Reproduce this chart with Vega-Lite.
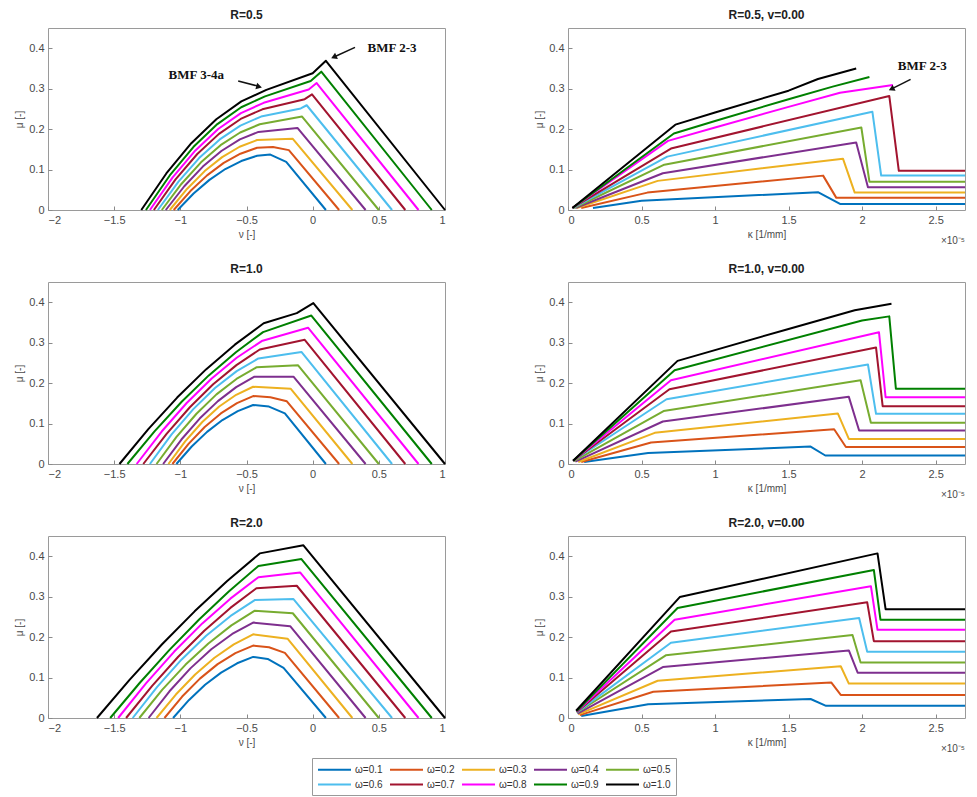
{
"$schema": "https://vega.github.io/schema/vega-lite/v6.json",
"padding": {"left": 14, "top": 8, "right": 5, "bottom": 5},
"config": {
  "font": "Liberation Sans",
  "view": {"stroke": "#9a9a9a", "strokeWidth": 1},
  "axis": {"domain": false, "grid": false, "ticks": true, "tickSize": -4, "tickColor": "#8a8a8a", "labelPadding": 8, "labelFont": "Liberation Sans", "labelFontSize": 11, "labelColor": "#4a4a4a", "titleFont": "Liberation Sans", "titleFontSize": 10, "titleFontWeight": "normal", "titleColor": "#4a4a4a", "titlePadding": 4},
  "title": {"fontSize": 12, "fontWeight": "bold", "font": "Liberation Sans", "color": "#222222", "offset": 6},
  "line": {"strokeWidth": 2, "strokeJoin": "round"}
},
"columns": 2,
"spacing": {"row": 15, "column": 87},
"resolve": {"scale": {"x": "independent", "y": "independent", "color": "shared"}, "legend": {"color": "shared"}},
"datasets": {
"a": [
{"w":"ω=0.1","x":-1.02,"y":0},{"w":"ω=0.1","x":-0.90,"y":0.0407},{"w":"ω=0.1","x":-0.78,"y":0.0745},{"w":"ω=0.1","x":-0.66,"y":0.1013},{"w":"ω=0.1","x":-0.54,"y":0.1211},{"w":"ω=0.1","x":-0.42,"y":0.134},{"w":"ω=0.1","x":-0.32,"y":0.137},{"w":"ω=0.1","x":-0.20,"y":0.119},{"w":"ω=0.1","x":0.1,"y":0},
{"w":"ω=0.2","x":-1.05,"y":0},{"w":"ω=0.2","x":-0.924,"y":0.0468},{"w":"ω=0.2","x":-0.798,"y":0.0856},{"w":"ω=0.2","x":-0.672,"y":0.1164},{"w":"ω=0.2","x":-0.546,"y":0.1392},{"w":"ω=0.2","x":-0.42,"y":0.154},{"w":"ω=0.2","x":-0.30,"y":0.156},{"w":"ω=0.2","x":-0.18,"y":0.148},{"w":"ω=0.2","x":0.2,"y":0},
{"w":"ω=0.3","x":-1.08,"y":0},{"w":"ω=0.3","x":-0.948,"y":0.0526},{"w":"ω=0.3","x":-0.816,"y":0.0962},{"w":"ω=0.3","x":-0.684,"y":0.1308},{"w":"ω=0.3","x":-0.552,"y":0.1564},{"w":"ω=0.3","x":-0.42,"y":0.173},{"w":"ω=0.3","x":-0.15,"y":0.176},{"w":"ω=0.3","x":0.3,"y":0},
{"w":"ω=0.4","x":-1.11,"y":0},{"w":"ω=0.4","x":-0.97,"y":0.0587},{"w":"ω=0.4","x":-0.83,"y":0.1073},{"w":"ω=0.4","x":-0.69,"y":0.1459},{"w":"ω=0.4","x":-0.55,"y":0.1745},{"w":"ω=0.4","x":-0.41,"y":0.193},{"w":"ω=0.4","x":-0.115,"y":0.203},{"w":"ω=0.4","x":0.4,"y":0},
{"w":"ω=0.5","x":-1.14,"y":0},{"w":"ω=0.5","x":-0.992,"y":0.0644},{"w":"ω=0.5","x":-0.844,"y":0.1179},{"w":"ω=0.5","x":-0.696,"y":0.1603},{"w":"ω=0.5","x":-0.548,"y":0.1916},{"w":"ω=0.5","x":-0.40,"y":0.212},{"w":"ω=0.5","x":-0.08,"y":0.231},{"w":"ω=0.5","x":0.5,"y":0},
{"w":"ω=0.6","x":-1.17,"y":0},{"w":"ω=0.6","x":-1.014,"y":0.0702},{"w":"ω=0.6","x":-0.858,"y":0.1284},{"w":"ω=0.6","x":-0.702,"y":0.1746},{"w":"ω=0.6","x":-0.546,"y":0.2088},{"w":"ω=0.6","x":-0.39,"y":0.231},{"w":"ω=0.6","x":-0.09,"y":0.251},{"w":"ω=0.6","x":-0.045,"y":0.259},{"w":"ω=0.6","x":0.6,"y":0},
{"w":"ω=0.7","x":-1.2,"y":0},{"w":"ω=0.7","x":-1.036,"y":0.0757},{"w":"ω=0.7","x":-0.872,"y":0.1384},{"w":"ω=0.7","x":-0.708,"y":0.1882},{"w":"ω=0.7","x":-0.544,"y":0.2251},{"w":"ω=0.7","x":-0.38,"y":0.249},{"w":"ω=0.7","x":-0.06,"y":0.274},{"w":"ω=0.7","x":-0.005,"y":0.286},{"w":"ω=0.7","x":0.7,"y":0},
{"w":"ω=0.8","x":-1.23,"y":0},{"w":"ω=0.8","x":-1.058,"y":0.0806},{"w":"ω=0.8","x":-0.886,"y":0.1473},{"w":"ω=0.8","x":-0.714,"y":0.2003},{"w":"ω=0.8","x":-0.542,"y":0.2396},{"w":"ω=0.8","x":-0.37,"y":0.265},{"w":"ω=0.8","x":-0.03,"y":0.298},{"w":"ω=0.8","x":0.03,"y":0.314},{"w":"ω=0.8","x":0.8,"y":0},
{"w":"ω=0.9","x":-1.26,"y":0},{"w":"ω=0.9","x":-1.08,"y":0.0854},{"w":"ω=0.9","x":-0.9,"y":0.1562},{"w":"ω=0.9","x":-0.72,"y":0.2124},{"w":"ω=0.9","x":-0.54,"y":0.254},{"w":"ω=0.9","x":-0.36,"y":0.281},{"w":"ω=0.9","x":-0.015,"y":0.319},{"w":"ω=0.9","x":0.065,"y":0.342},{"w":"ω=0.9","x":0.9,"y":0},
{"w":"ω=1.0","x":-1.295,"y":0},{"w":"ω=1.0","x":-1.106,"y":0.0903},{"w":"ω=1.0","x":-0.917,"y":0.1651},{"w":"ω=1.0","x":-0.728,"y":0.2245},{"w":"ω=1.0","x":-0.539,"y":0.2685},{"w":"ω=1.0","x":-0.35,"y":0.297},{"w":"ω=1.0","x":0.0,"y":0.338},{"w":"ω=1.0","x":0.10,"y":0.369},{"w":"ω=1.0","x":1.0,"y":0}
],
"b": [
{"w":"ω=0.1","x":0.17,"y":0.005},{"w":"ω=0.1","x":0.50,"y":0.023},{"w":"ω=0.1","x":1.70,"y":0.044},{"w":"ω=0.1","x":1.85,"y":0.015},{"w":"ω=0.1","x":2.7,"y":0.015},
{"w":"ω=0.2","x":0.09,"y":0.005},{"w":"ω=0.2","x":0.54,"y":0.043},{"w":"ω=0.2","x":1.735,"y":0.085},{"w":"ω=0.2","x":1.825,"y":0.03},{"w":"ω=0.2","x":2.7,"y":0.03},
{"w":"ω=0.3","x":0.06,"y":0.005},{"w":"ω=0.3","x":0.61,"y":0.072},{"w":"ω=0.3","x":1.87,"y":0.127},{"w":"ω=0.3","x":1.95,"y":0.043},{"w":"ω=0.3","x":2.7,"y":0.043},
{"w":"ω=0.4","x":0.05,"y":0.005},{"w":"ω=0.4","x":0.645,"y":0.091},{"w":"ω=0.4","x":1.96,"y":0.167},{"w":"ω=0.4","x":2.04,"y":0.056},{"w":"ω=0.4","x":2.7,"y":0.056},
{"w":"ω=0.5","x":0.04,"y":0.005},{"w":"ω=0.5","x":0.655,"y":0.112},{"w":"ω=0.5","x":1.995,"y":0.204},{"w":"ω=0.5","x":2.05,"y":0.07},{"w":"ω=0.5","x":2.7,"y":0.07},
{"w":"ω=0.6","x":0.035,"y":0.005},{"w":"ω=0.6","x":0.675,"y":0.132},{"w":"ω=0.6","x":2.07,"y":0.243},{"w":"ω=0.6","x":2.13,"y":0.085},{"w":"ω=0.6","x":2.7,"y":0.085},
{"w":"ω=0.7","x":0.03,"y":0.005},{"w":"ω=0.7","x":0.70,"y":0.152},{"w":"ω=0.7","x":2.185,"y":0.282},{"w":"ω=0.7","x":2.25,"y":0.097},{"w":"ω=0.7","x":2.7,"y":0.097},
{"w":"ω=0.8","x":0.03,"y":0.005},{"w":"ω=0.8","x":0.68,"y":0.171},{"w":"ω=0.8","x":1.0,"y":0.204},{"w":"ω=0.8","x":1.5,"y":0.255},{"w":"ω=0.8","x":1.85,"y":0.29},{"w":"ω=0.8","x":2.21,"y":0.309},
{"w":"ω=0.9","x":0.03,"y":0.005},{"w":"ω=0.9","x":0.72,"y":0.189},{"w":"ω=0.9","x":1.0,"y":0.22},{"w":"ω=0.9","x":1.5,"y":0.274},{"w":"ω=0.9","x":1.8,"y":0.305},{"w":"ω=0.9","x":2.05,"y":0.329},
{"w":"ω=1.0","x":0.03,"y":0.005},{"w":"ω=1.0","x":0.73,"y":0.211},{"w":"ω=1.0","x":1.0,"y":0.241},{"w":"ω=1.0","x":1.5,"y":0.295},{"w":"ω=1.0","x":1.7,"y":0.324},{"w":"ω=1.0","x":1.96,"y":0.35}
],
"c": [
{"w":"ω=0.1","x":-1.03,"y":0},{"w":"ω=0.1","x":-0.914,"y":0.0432},{"w":"ω=0.1","x":-0.798,"y":0.0794},{"w":"ω=0.1","x":-0.682,"y":0.1086},{"w":"ω=0.1","x":-0.566,"y":0.1308},{"w":"ω=0.1","x":-0.45,"y":0.146},{"w":"ω=0.1","x":-0.33,"y":0.142},{"w":"ω=0.1","x":-0.21,"y":0.125},{"w":"ω=0.1","x":0.1,"y":0},
{"w":"ω=0.2","x":-1.06,"y":0},{"w":"ω=0.2","x":-0.938,"y":0.0497},{"w":"ω=0.2","x":-0.816,"y":0.0914},{"w":"ω=0.2","x":-0.694,"y":0.125},{"w":"ω=0.2","x":-0.572,"y":0.1505},{"w":"ω=0.2","x":-0.45,"y":0.168},{"w":"ω=0.2","x":-0.32,"y":0.165},{"w":"ω=0.2","x":-0.195,"y":0.155},{"w":"ω=0.2","x":0.2,"y":0},
{"w":"ω=0.3","x":-1.09,"y":0},{"w":"ω=0.3","x":-0.962,"y":0.0565},{"w":"ω=0.3","x":-0.834,"y":0.1039},{"w":"ω=0.3","x":-0.706,"y":0.1421},{"w":"ω=0.3","x":-0.578,"y":0.1711},{"w":"ω=0.3","x":-0.45,"y":0.191},{"w":"ω=0.3","x":-0.165,"y":0.186},{"w":"ω=0.3","x":0.3,"y":0},
{"w":"ω=0.4","x":-1.13,"y":0},{"w":"ω=0.4","x":-0.992,"y":0.0605},{"w":"ω=0.4","x":-0.854,"y":0.1123},{"w":"ω=0.4","x":-0.716,"y":0.1555},{"w":"ω=0.4","x":-0.578,"y":0.1901},{"w":"ω=0.4","x":-0.44,"y":0.216},{"w":"ω=0.4","x":-0.145,"y":0.216},{"w":"ω=0.4","x":0.4,"y":0},
{"w":"ω=0.5","x":-1.18,"y":0},{"w":"ω=0.5","x":-1.029,"y":0.0669},{"w":"ω=0.5","x":-0.878,"y":0.1243},{"w":"ω=0.5","x":-0.727,"y":0.1721},{"w":"ω=0.5","x":-0.576,"y":0.2103},{"w":"ω=0.5","x":-0.425,"y":0.239},{"w":"ω=0.5","x":-0.11,"y":0.244},{"w":"ω=0.5","x":0.5,"y":0},
{"w":"ω=0.6","x":-1.23,"y":0},{"w":"ω=0.6","x":-1.066,"y":0.0731},{"w":"ω=0.6","x":-0.902,"y":0.1357},{"w":"ω=0.6","x":-0.738,"y":0.1879},{"w":"ω=0.6","x":-0.574,"y":0.2297},{"w":"ω=0.6","x":-0.41,"y":0.261},{"w":"ω=0.6","x":-0.085,"y":0.277},{"w":"ω=0.6","x":0.6,"y":0},
{"w":"ω=0.7","x":-1.28,"y":0},{"w":"ω=0.7","x":-1.104,"y":0.0747},{"w":"ω=0.7","x":-0.928,"y":0.1404},{"w":"ω=0.7","x":-0.752,"y":0.197},{"w":"ω=0.7","x":-0.576,"y":0.2445},{"w":"ω=0.7","x":-0.40,"y":0.283},{"w":"ω=0.7","x":-0.06,"y":0.307},{"w":"ω=0.7","x":0.7,"y":0},
{"w":"ω=0.8","x":-1.33,"y":0},{"w":"ω=0.8","x":-1.141,"y":0.0803},{"w":"ω=0.8","x":-0.952,"y":0.1508},{"w":"ω=0.8","x":-0.763,"y":0.2116},{"w":"ω=0.8","x":-0.574,"y":0.2627},{"w":"ω=0.8","x":-0.385,"y":0.304},{"w":"ω=0.8","x":-0.035,"y":0.337},{"w":"ω=0.8","x":0.8,"y":0},
{"w":"ω=0.9","x":-1.40,"y":0},{"w":"ω=0.9","x":-1.195,"y":0.0808},{"w":"ω=0.9","x":-0.99,"y":0.1539},{"w":"ω=0.9","x":-0.785,"y":0.2191},{"w":"ω=0.9","x":-0.58,"y":0.2764},{"w":"ω=0.9","x":-0.375,"y":0.326},{"w":"ω=0.9","x":-0.01,"y":0.367},{"w":"ω=0.9","x":0.9,"y":0},
{"w":"ω=1.0","x":-1.46,"y":0},{"w":"ω=1.0","x":-1.242,"y":0.0863},{"w":"ω=1.0","x":-1.024,"y":0.1643},{"w":"ω=1.0","x":-0.806,"y":0.2339},{"w":"ω=1.0","x":-0.588,"y":0.2951},{"w":"ω=1.0","x":-0.37,"y":0.348},{"w":"ω=1.0","x":-0.12,"y":0.373},{"w":"ω=1.0","x":0.005,"y":0.398},{"w":"ω=1.0","x":1.0,"y":0}
],
"d": [
{"w":"ω=0.1","x":0.11,"y":0.005},{"w":"ω=0.1","x":0.545,"y":0.027},{"w":"ω=0.1","x":1.65,"y":0.043},{"w":"ω=0.1","x":1.75,"y":0.021},{"w":"ω=0.1","x":2.7,"y":0.021},
{"w":"ω=0.2","x":0.09,"y":0.005},{"w":"ω=0.2","x":0.565,"y":0.053},{"w":"ω=0.2","x":1.81,"y":0.086},{"w":"ω=0.2","x":1.89,"y":0.042},{"w":"ω=0.2","x":2.7,"y":0.042},
{"w":"ω=0.3","x":0.07,"y":0.005},{"w":"ω=0.3","x":0.59,"y":0.077},{"w":"ω=0.3","x":1.835,"y":0.125},{"w":"ω=0.3","x":1.91,"y":0.062},{"w":"ω=0.3","x":2.7,"y":0.062},
{"w":"ω=0.4","x":0.05,"y":0.006},{"w":"ω=0.4","x":0.645,"y":0.105},{"w":"ω=0.4","x":1.91,"y":0.166},{"w":"ω=0.4","x":1.98,"y":0.083},{"w":"ω=0.4","x":2.7,"y":0.083},
{"w":"ω=0.5","x":0.04,"y":0.007},{"w":"ω=0.5","x":0.65,"y":0.131},{"w":"ω=0.5","x":1.99,"y":0.207},{"w":"ω=0.5","x":2.06,"y":0.102},{"w":"ω=0.5","x":2.7,"y":0.102},
{"w":"ω=0.6","x":0.035,"y":0.008},{"w":"ω=0.6","x":0.67,"y":0.16},{"w":"ω=0.6","x":2.04,"y":0.246},{"w":"ω=0.6","x":2.095,"y":0.124},{"w":"ω=0.6","x":2.7,"y":0.124},
{"w":"ω=0.7","x":0.035,"y":0.008},{"w":"ω=0.7","x":0.69,"y":0.185},{"w":"ω=0.7","x":2.095,"y":0.288},{"w":"ω=0.7","x":2.14,"y":0.143},{"w":"ω=0.7","x":2.7,"y":0.143},
{"w":"ω=0.8","x":0.035,"y":0.008},{"w":"ω=0.8","x":0.70,"y":0.207},{"w":"ω=0.8","x":2.115,"y":0.326},{"w":"ω=0.8","x":2.16,"y":0.165},{"w":"ω=0.8","x":2.7,"y":0.165},
{"w":"ω=0.9","x":0.035,"y":0.008},{"w":"ω=0.9","x":0.725,"y":0.232},{"w":"ω=0.9","x":2.0,"y":0.355},{"w":"ω=0.9","x":2.185,"y":0.365},{"w":"ω=0.9","x":2.23,"y":0.186},{"w":"ω=0.9","x":2.7,"y":0.186},
{"w":"ω=1.0","x":0.035,"y":0.008},{"w":"ω=1.0","x":0.745,"y":0.255},{"w":"ω=1.0","x":1.5,"y":0.334},{"w":"ω=1.0","x":1.95,"y":0.38},{"w":"ω=1.0","x":2.2,"y":0.396}
],
"e": [
{"w":"ω=0.1","x":-1.055,"y":0},{"w":"ω=0.1","x":-0.934,"y":0.0447},{"w":"ω=0.1","x":-0.813,"y":0.0821},{"w":"ω=0.1","x":-0.692,"y":0.1123},{"w":"ω=0.1","x":-0.571,"y":0.1353},{"w":"ω=0.1","x":-0.45,"y":0.151},{"w":"ω=0.1","x":-0.34,"y":0.146},{"w":"ω=0.1","x":-0.22,"y":0.124},{"w":"ω=0.1","x":0.1,"y":0},
{"w":"ω=0.2","x":-1.12,"y":0},{"w":"ω=0.2","x":-0.986,"y":0.053},{"w":"ω=0.2","x":-0.852,"y":0.0974},{"w":"ω=0.2","x":-0.718,"y":0.1332},{"w":"ω=0.2","x":-0.584,"y":0.1604},{"w":"ω=0.2","x":-0.45,"y":0.179},{"w":"ω=0.2","x":-0.33,"y":0.175},{"w":"ω=0.2","x":-0.21,"y":0.161},{"w":"ω=0.2","x":0.2,"y":0},
{"w":"ω=0.3","x":-1.18,"y":0},{"w":"ω=0.3","x":-1.034,"y":0.058},{"w":"ω=0.3","x":-0.888,"y":0.1076},{"w":"ω=0.3","x":-0.742,"y":0.149},{"w":"ω=0.3","x":-0.596,"y":0.1822},{"w":"ω=0.3","x":-0.45,"y":0.207},{"w":"ω=0.3","x":-0.19,"y":0.196},{"w":"ω=0.3","x":0.3,"y":0},
{"w":"ω=0.4","x":-1.24,"y":0},{"w":"ω=0.4","x":-1.082,"y":0.0661},{"w":"ω=0.4","x":-0.924,"y":0.1227},{"w":"ω=0.4","x":-0.766,"y":0.1699},{"w":"ω=0.4","x":-0.608,"y":0.2077},{"w":"ω=0.4","x":-0.45,"y":0.236},{"w":"ω=0.4","x":-0.17,"y":0.227},{"w":"ω=0.4","x":0.4,"y":0},
{"w":"ω=0.5","x":-1.31,"y":0},{"w":"ω=0.5","x":-1.136,"y":0.07},{"w":"ω=0.5","x":-0.962,"y":0.1314},{"w":"ω=0.5","x":-0.788,"y":0.1844},{"w":"ω=0.5","x":-0.614,"y":0.229},{"w":"ω=0.5","x":-0.44,"y":0.265},{"w":"ω=0.5","x":-0.15,"y":0.259},{"w":"ω=0.5","x":0.5,"y":0},
{"w":"ω=0.6","x":-1.36,"y":0},{"w":"ω=0.6","x":-1.175,"y":0.0771},{"w":"ω=0.6","x":-0.99,"y":0.1448},{"w":"ω=0.6","x":-0.805,"y":0.2032},{"w":"ω=0.6","x":-0.62,"y":0.2523},{"w":"ω=0.6","x":-0.435,"y":0.292},{"w":"ω=0.6","x":-0.145,"y":0.294},{"w":"ω=0.6","x":0.6,"y":0},
{"w":"ω=0.7","x":-1.41,"y":0},{"w":"ω=0.7","x":-1.213,"y":0.0796},{"w":"ω=0.7","x":-1.016,"y":0.1515},{"w":"ω=0.7","x":-0.819,"y":0.2157},{"w":"ω=0.7","x":-0.622,"y":0.2722},{"w":"ω=0.7","x":-0.425,"y":0.321},{"w":"ω=0.7","x":-0.12,"y":0.327},{"w":"ω=0.7","x":0.7,"y":0},
{"w":"ω=0.8","x":-1.47,"y":0},{"w":"ω=0.8","x":-1.258,"y":0.0863},{"w":"ω=0.8","x":-1.046,"y":0.1643},{"w":"ω=0.8","x":-0.834,"y":0.2339},{"w":"ω=0.8","x":-0.622,"y":0.2951},{"w":"ω=0.8","x":-0.41,"y":0.348},{"w":"ω=0.8","x":-0.095,"y":0.36},{"w":"ω=0.8","x":0.8,"y":0},
{"w":"ω=0.9","x":-1.53,"y":0},{"w":"ω=0.9","x":-1.306,"y":0.0872},{"w":"ω=0.9","x":-1.082,"y":0.1684},{"w":"ω=0.9","x":-0.858,"y":0.2436},{"w":"ω=0.9","x":-0.634,"y":0.3128},{"w":"ω=0.9","x":-0.41,"y":0.376},{"w":"ω=0.9","x":-0.085,"y":0.393},{"w":"ω=0.9","x":0.9,"y":0},
{"w":"ω=1.0","x":-1.63,"y":0},{"w":"ω=1.0","x":-1.384,"y":0.0944},{"w":"ω=1.0","x":-1.138,"y":0.1823},{"w":"ω=1.0","x":-0.892,"y":0.2637},{"w":"ω=1.0","x":-0.646,"y":0.3386},{"w":"ω=1.0","x":-0.40,"y":0.407},{"w":"ω=1.0","x":-0.07,"y":0.427},{"w":"ω=1.0","x":1.0,"y":0}
],
"f": [
{"w":"ω=0.1","x":0.09,"y":0.005},{"w":"ω=0.1","x":0.545,"y":0.034},{"w":"ω=0.1","x":1.65,"y":0.047},{"w":"ω=0.1","x":1.755,"y":0.03},{"w":"ω=0.1","x":2.7,"y":0.03},
{"w":"ω=0.2","x":0.08,"y":0.007},{"w":"ω=0.2","x":0.58,"y":0.065},{"w":"ω=0.2","x":1.79,"y":0.088},{"w":"ω=0.2","x":1.855,"y":0.057},{"w":"ω=0.2","x":2.7,"y":0.057},
{"w":"ω=0.3","x":0.07,"y":0.009},{"w":"ω=0.3","x":0.61,"y":0.092},{"w":"ω=0.3","x":1.855,"y":0.128},{"w":"ω=0.3","x":1.91,"y":0.085},{"w":"ω=0.3","x":2.7,"y":0.085},
{"w":"ω=0.4","x":0.065,"y":0.011},{"w":"ω=0.4","x":0.645,"y":0.126},{"w":"ω=0.4","x":1.91,"y":0.167},{"w":"ω=0.4","x":1.97,"y":0.112},{"w":"ω=0.4","x":2.7,"y":0.112},
{"w":"ω=0.5","x":0.06,"y":0.013},{"w":"ω=0.5","x":0.665,"y":0.155},{"w":"ω=0.5","x":1.935,"y":0.205},{"w":"ω=0.5","x":1.99,"y":0.137},{"w":"ω=0.5","x":2.7,"y":0.137},
{"w":"ω=0.6","x":0.06,"y":0.014},{"w":"ω=0.6","x":0.70,"y":0.186},{"w":"ω=0.6","x":1.98,"y":0.247},{"w":"ω=0.6","x":2.035,"y":0.164},{"w":"ω=0.6","x":2.7,"y":0.164},
{"w":"ω=0.7","x":0.06,"y":0.015},{"w":"ω=0.7","x":0.70,"y":0.214},{"w":"ω=0.7","x":2.035,"y":0.286},{"w":"ω=0.7","x":2.08,"y":0.19},{"w":"ω=0.7","x":2.7,"y":0.19},
{"w":"ω=0.8","x":0.06,"y":0.016},{"w":"ω=0.8","x":0.725,"y":0.243},{"w":"ω=0.8","x":2.06,"y":0.326},{"w":"ω=0.8","x":2.105,"y":0.218},{"w":"ω=0.8","x":2.7,"y":0.218},
{"w":"ω=0.9","x":0.06,"y":0.017},{"w":"ω=0.9","x":0.745,"y":0.272},{"w":"ω=0.9","x":2.08,"y":0.366},{"w":"ω=0.9","x":2.125,"y":0.243},{"w":"ω=0.9","x":2.7,"y":0.243},
{"w":"ω=1.0","x":0.055,"y":0.018},{"w":"ω=1.0","x":0.76,"y":0.299},{"w":"ω=1.0","x":2.105,"y":0.407},{"w":"ω=1.0","x":2.16,"y":0.269},{"w":"ω=1.0","x":2.7,"y":0.269}
]
},
"concat": [
{"width": 397, "height": 182, "title": "R=0.5",
 "layer": [
  {"data": {"name": "a"}, "mark": {"type": "line"},
   "encoding": {
    "x": {"field": "x", "type": "quantitative", "scale": {"domain": [-2, 1], "nice": false, "zero": false}, "axis": {"title": "ν [-]", "values": [-2, -1.5, -1, -0.5, 0, 0.5, 1], "format": "~g"}},
    "y": {"field": "y", "type": "quantitative", "scale": {"domain": [0, 0.45], "nice": false}, "axis": {"title": "μ [-]", "values": [0, 0.1, 0.2, 0.3, 0.4], "format": "~g"}},
    "color": {"field": "w", "type": "nominal", "scale": {"domain": ["ω=0.1","ω=0.2","ω=0.3","ω=0.4","ω=0.5","ω=0.6","ω=0.7","ω=0.8","ω=0.9","ω=1.0"], "range": ["#0072BD","#D95319","#EDB120","#7E2F8E","#77AC30","#4DBEEE","#A2142F","#FF00FF","#008000","#000000"]},
     "legend": {"title": null, "orient": "none", "legendX": 264, "legendY": 730, "direction": "horizontal", "columns": 5, "symbolType": "M-1,0H5", "symbolSize": 121, "symbolStrokeWidth": 2, "labelFontSize": 10, "labelOffset": 25, "labelColor": "#333333", "strokeColor": "#999999", "padding": 5, "columnPadding": 6, "rowPadding": 3}}
   }},
  {"data": {"values": [{"t": "BMF 3-4a", "x": -0.88, "y": 0.334}, {"t": "BMF 2-3", "x": 0.60, "y": 0.40}]},
   "mark": {"type": "text", "font": "Liberation Serif", "fontWeight": "bold", "fontSize": 13, "color": "#111111"},
   "encoding": {"x": {"field": "x", "type": "quantitative"}, "y": {"field": "y", "type": "quantitative"}, "text": {"field": "t"}}},
  {"data": {"values": [{"x": -0.563, "y": 0.319, "x2": -0.41, "y2": 0.306}, {"x": 0.32, "y": 0.402, "x2": 0.165, "y2": 0.379}]},
   "mark": {"type": "rule", "strokeWidth": 1.5, "color": "#111111"},
   "encoding": {"x": {"field": "x", "type": "quantitative"}, "y": {"field": "y", "type": "quantitative"}, "x2": {"field": "x2"}, "y2": {"field": "y2"}}},
  {"data": {"values": [{"x": -0.405, "y": 0.305}]},
   "mark": {"type": "point", "shape": "triangle-right", "angle": 15, "filled": true, "size": 45, "color": "#111111", "opacity": 1},
   "encoding": {"x": {"field": "x", "type": "quantitative"}, "y": {"field": "y", "type": "quantitative"}}},
  {"data": {"values": [{"x": 0.16, "y": 0.378}]},
   "mark": {"type": "point", "shape": "triangle-right", "angle": 155, "filled": true, "size": 45, "color": "#111111", "opacity": 1},
   "encoding": {"x": {"field": "x", "type": "quantitative"}, "y": {"field": "y", "type": "quantitative"}}}
 ]},
{"width": 397, "height": 182, "title": "R=0.5, v=0.00",
 "layer": [
  {"data": {"name": "b"}, "mark": {"type": "line"},
   "encoding": {
    "x": {"field": "x", "type": "quantitative", "scale": {"domain": [0, 2.7], "nice": false, "zero": false}, "axis": {"title": "κ [1/mm]", "values": [0, 0.5, 1, 1.5, 2, 2.5], "format": "~g"}},
    "y": {"field": "y", "type": "quantitative", "scale": {"domain": [0, 0.45], "nice": false}, "axis": {"title": "μ [-]", "values": [0, 0.1, 0.2, 0.3, 0.4], "format": "~g"}},
    "color": {"field": "w", "type": "nominal", "scale": {"domain": ["ω=0.1","ω=0.2","ω=0.3","ω=0.4","ω=0.5","ω=0.6","ω=0.7","ω=0.8","ω=0.9","ω=1.0"], "range": ["#0072BD","#D95319","#EDB120","#7E2F8E","#77AC30","#4DBEEE","#A2142F","#FF00FF","#008000","#000000"]},
     "legend": {"title": null, "orient": "none", "legendX": 264, "legendY": 730, "direction": "horizontal", "columns": 5, "symbolType": "M-1,0H5", "symbolSize": 121, "symbolStrokeWidth": 2, "labelFontSize": 10, "labelOffset": 25, "labelColor": "#333333", "strokeColor": "#999999", "padding": 5, "columnPadding": 6, "rowPadding": 3}}
   }},
  {"data": {"values": [{"t": "BMF 2-3", "x": 2.41, "y": 0.355}]},
   "mark": {"type": "text", "font": "Liberation Serif", "fontWeight": "bold", "fontSize": 13, "color": "#111111"},
   "encoding": {"x": {"field": "x", "type": "quantitative"}, "y": {"field": "y", "type": "quantitative"}, "text": {"field": "t"}}},
  {"data": {"values": [{"x": 2.33, "y": 0.323, "x2": 2.205, "y2": 0.30}]},
   "mark": {"type": "rule", "strokeWidth": 1.5, "color": "#111111"},
   "encoding": {"x": {"field": "x", "type": "quantitative"}, "y": {"field": "y", "type": "quantitative"}, "x2": {"field": "x2"}, "y2": {"field": "y2"}}},
  {"data": {"values": [{"x": 2.2, "y": 0.299}]},
   "mark": {"type": "point", "shape": "triangle-right", "angle": 154, "filled": true, "size": 45, "color": "#111111", "opacity": 1},
   "encoding": {"x": {"field": "x", "type": "quantitative"}, "y": {"field": "y", "type": "quantitative"}}},
  {"data": {"values": [{"x": 2.7, "y": 0}]},
   "mark": {"type": "text", "align": "right", "baseline": "top", "dy": 26, "fontSize": 10, "color": "#4a4a4a"},
   "encoding": {"x": {"field": "x", "type": "quantitative"}, "y": {"field": "y", "type": "quantitative"}, "text": {"value": "×10⁻⁵"}}}
 ]},
{"width": 397, "height": 182, "title": "R=1.0",
 "layer": [
  {"data": {"name": "c"}, "mark": {"type": "line"},
   "encoding": {
    "x": {"field": "x", "type": "quantitative", "scale": {"domain": [-2, 1], "nice": false, "zero": false}, "axis": {"title": "ν [-]", "values": [-2, -1.5, -1, -0.5, 0, 0.5, 1], "format": "~g"}},
    "y": {"field": "y", "type": "quantitative", "scale": {"domain": [0, 0.45], "nice": false}, "axis": {"title": "μ [-]", "values": [0, 0.1, 0.2, 0.3, 0.4], "format": "~g"}},
    "color": {"field": "w", "type": "nominal", "scale": {"domain": ["ω=0.1","ω=0.2","ω=0.3","ω=0.4","ω=0.5","ω=0.6","ω=0.7","ω=0.8","ω=0.9","ω=1.0"], "range": ["#0072BD","#D95319","#EDB120","#7E2F8E","#77AC30","#4DBEEE","#A2142F","#FF00FF","#008000","#000000"]},
     "legend": {"title": null, "orient": "none", "legendX": 264, "legendY": 730, "direction": "horizontal", "columns": 5, "symbolType": "M-1,0H5", "symbolSize": 121, "symbolStrokeWidth": 2, "labelFontSize": 10, "labelOffset": 25, "labelColor": "#333333", "strokeColor": "#999999", "padding": 5, "columnPadding": 6, "rowPadding": 3}}
   }}
 ]},
{"width": 397, "height": 182, "title": "R=1.0, v=0.00",
 "layer": [
  {"data": {"name": "d"}, "mark": {"type": "line"},
   "encoding": {
    "x": {"field": "x", "type": "quantitative", "scale": {"domain": [0, 2.7], "nice": false, "zero": false}, "axis": {"title": "κ [1/mm]", "values": [0, 0.5, 1, 1.5, 2, 2.5], "format": "~g"}},
    "y": {"field": "y", "type": "quantitative", "scale": {"domain": [0, 0.45], "nice": false}, "axis": {"title": "μ [-]", "values": [0, 0.1, 0.2, 0.3, 0.4], "format": "~g"}},
    "color": {"field": "w", "type": "nominal", "scale": {"domain": ["ω=0.1","ω=0.2","ω=0.3","ω=0.4","ω=0.5","ω=0.6","ω=0.7","ω=0.8","ω=0.9","ω=1.0"], "range": ["#0072BD","#D95319","#EDB120","#7E2F8E","#77AC30","#4DBEEE","#A2142F","#FF00FF","#008000","#000000"]},
     "legend": {"title": null, "orient": "none", "legendX": 264, "legendY": 730, "direction": "horizontal", "columns": 5, "symbolType": "M-1,0H5", "symbolSize": 121, "symbolStrokeWidth": 2, "labelFontSize": 10, "labelOffset": 25, "labelColor": "#333333", "strokeColor": "#999999", "padding": 5, "columnPadding": 6, "rowPadding": 3}}
   }},
  {"data": {"values": [{"x": 2.7, "y": 0}]},
   "mark": {"type": "text", "align": "right", "baseline": "top", "dy": 26, "fontSize": 10, "color": "#4a4a4a"},
   "encoding": {"x": {"field": "x", "type": "quantitative"}, "y": {"field": "y", "type": "quantitative"}, "text": {"value": "×10⁻⁵"}}}
 ]},
{"width": 397, "height": 182, "title": "R=2.0",
 "layer": [
  {"data": {"name": "e"}, "mark": {"type": "line"},
   "encoding": {
    "x": {"field": "x", "type": "quantitative", "scale": {"domain": [-2, 1], "nice": false, "zero": false}, "axis": {"title": "ν [-]", "values": [-2, -1.5, -1, -0.5, 0, 0.5, 1], "format": "~g"}},
    "y": {"field": "y", "type": "quantitative", "scale": {"domain": [0, 0.45], "nice": false}, "axis": {"title": "μ [-]", "values": [0, 0.1, 0.2, 0.3, 0.4], "format": "~g"}},
    "color": {"field": "w", "type": "nominal", "scale": {"domain": ["ω=0.1","ω=0.2","ω=0.3","ω=0.4","ω=0.5","ω=0.6","ω=0.7","ω=0.8","ω=0.9","ω=1.0"], "range": ["#0072BD","#D95319","#EDB120","#7E2F8E","#77AC30","#4DBEEE","#A2142F","#FF00FF","#008000","#000000"]},
     "legend": {"title": null, "orient": "none", "legendX": 264, "legendY": 730, "direction": "horizontal", "columns": 5, "symbolType": "M-1,0H5", "symbolSize": 121, "symbolStrokeWidth": 2, "labelFontSize": 10, "labelOffset": 25, "labelColor": "#333333", "strokeColor": "#999999", "padding": 5, "columnPadding": 6, "rowPadding": 3}}
   }}
 ]},
{"width": 397, "height": 182, "title": "R=2.0, v=0.00",
 "layer": [
  {"data": {"name": "f"}, "mark": {"type": "line"},
   "encoding": {
    "x": {"field": "x", "type": "quantitative", "scale": {"domain": [0, 2.7], "nice": false, "zero": false}, "axis": {"title": "κ [1/mm]", "values": [0, 0.5, 1, 1.5, 2, 2.5], "format": "~g"}},
    "y": {"field": "y", "type": "quantitative", "scale": {"domain": [0, 0.45], "nice": false}, "axis": {"title": "μ [-]", "values": [0, 0.1, 0.2, 0.3, 0.4], "format": "~g"}},
    "color": {"field": "w", "type": "nominal", "scale": {"domain": ["ω=0.1","ω=0.2","ω=0.3","ω=0.4","ω=0.5","ω=0.6","ω=0.7","ω=0.8","ω=0.9","ω=1.0"], "range": ["#0072BD","#D95319","#EDB120","#7E2F8E","#77AC30","#4DBEEE","#A2142F","#FF00FF","#008000","#000000"]},
     "legend": {"title": null, "orient": "none", "legendX": 264, "legendY": 730, "direction": "horizontal", "columns": 5, "symbolType": "M-1,0H5", "symbolSize": 121, "symbolStrokeWidth": 2, "labelFontSize": 10, "labelOffset": 25, "labelColor": "#333333", "strokeColor": "#999999", "padding": 5, "columnPadding": 6, "rowPadding": 3}}
   }},
  {"data": {"values": [{"x": 2.7, "y": 0}]},
   "mark": {"type": "text", "align": "right", "baseline": "top", "dy": 26, "fontSize": 10, "color": "#4a4a4a"},
   "encoding": {"x": {"field": "x", "type": "quantitative"}, "y": {"field": "y", "type": "quantitative"}, "text": {"value": "×10⁻⁵"}}}
 ]}
]
}
